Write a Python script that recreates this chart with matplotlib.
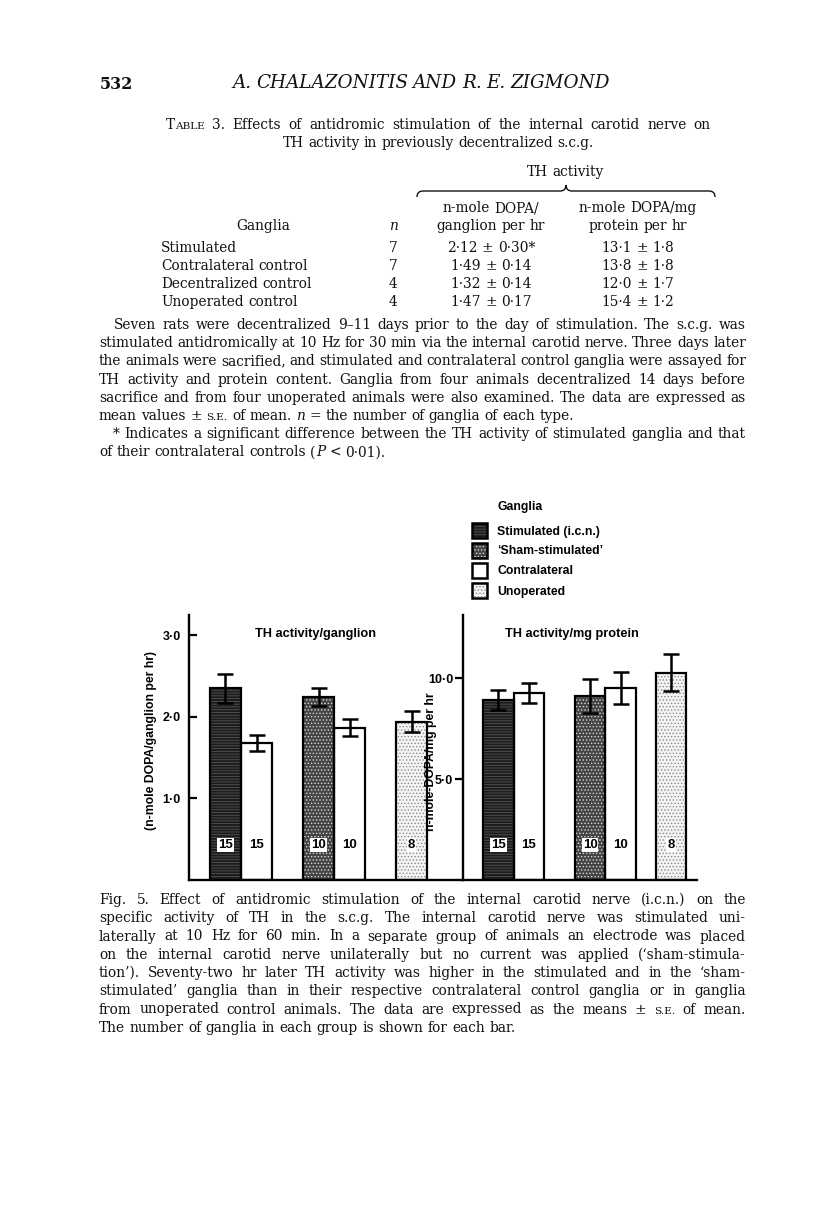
import matplotlib
matplotlib.use('Agg')
import matplotlib.pyplot as plt
from matplotlib.patches import Rectangle, PathPatch
from matplotlib.path import Path
import matplotlib.transforms as mtransforms

# ---------------- data ----------------
legend_labels = ['Stimulated (i.c.n.)', '\u2018Sham-stimulated\u2019', 'Contralateral', 'Unoperated']
bar_kind = ['stim', 'contra', 'sham', 'contra', 'unop']
n_ganglia = [15, 15, 10, 10, 8]
ganglion_mean = [2.35, 1.68, 2.25, 1.87, 1.94]
ganglion_se = [0.18, 0.10, 0.11, 0.11, 0.13]
protein_mean = [8.90, 9.24, 9.10, 9.52, 10.26]
protein_se = [0.50, 0.50, 0.83, 0.80, 0.92]
ganglion_ticks = [1.0, 2.0, 3.0]
ganglion_ticklabels = ['1\u00b70', '2\u00b70', '3\u00b70']
protein_ticks = [5.0, 10.0]
protein_ticklabels = ['5\u00b70', '10\u00b70']

table_rows = ['Stimulated', 'Contralateral control', 'Decentralized control', 'Unoperated control']
table_n = ['7', '7', '4', '4']
table_ganglion = ['2\u00b712 \u00b1 0\u00b730*', '1\u00b749 \u00b1 0\u00b714', '1\u00b732 \u00b1 0\u00b714', '1\u00b747 \u00b1 0\u00b717']
table_protein = ['13\u00b71 \u00b1 1\u00b78', '13\u00b78 \u00b1 1\u00b78', '12\u00b70 \u00b1 1\u00b77', '15\u00b74 \u00b1 1\u00b72']

# ---------------- page setup ----------------
W, H, DPI = 816, 1229, 100
plt.rcParams['hatch.linewidth'] = 0.6
fig = plt.figure(figsize=(W / DPI, H / DPI), dpi=DPI)
fig.patch.set_facecolor('white')
page = fig.add_axes([0, 0, 1, 1])
page.set_xlim(0, W)
page.set_ylim(H, 0)
page.axis('off')
renderer = fig.canvas.get_renderer()

SERIF = 'DejaVu Serif'
SANS = 'Liberation Sans'
SC = 0.76  # small caps scale
FS = 9.95  # body text size
INK = '#111111'


def parse_word(w):
    segs = []
    cur = ''
    sc = False
    it = False
    for ch in w:
        if ch in '^_':
            if cur:
                segs.append((cur, SC if sc else 1.0, 'italic' if it else 'normal'))
            cur = ''
            if ch == '^':
                sc = not sc
            else:
                it = not it
        else:
            cur += ch
    if cur:
        segs.append((cur, SC if sc else 1.0, 'italic' if it else 'normal'))
    return segs


def put_line(yc, line, x0, x1=None, size=FS, family=SERIF, weight='normal', style='normal'):
    y = yc + 4
    items = []
    total = 0
    for w in line.split(' '):
        segs = []
        wt = 0
        for txt, scale, st in parse_word(w):
            t = page.text(0, y, txt, fontsize=size * scale, family=family, weight=weight,
                          fontstyle=('italic' if style == 'italic' else st),
                          va='baseline', ha='left', color=INK)
            ww = t.get_window_extent(renderer).width
            segs.append((t, ww))
            wt += ww
        items.append(segs)
        total += wt
    space = 0.318 * size * DPI / 72
    if x1 is not None and len(items) > 1:
        gap = max((x1 - x0 - total) / (len(items) - 1), 0.6 * space)
    else:
        gap = space
    x = x0
    for segs in items:
        for t, ww in segs:
            t.set_x(x)
            x += ww
        x += gap
    return x - gap


def centered(xc, yc, line, size=FS, family=SERIF, weight='normal'):
    n0 = len(page.texts)
    end = put_line(yc, line, 0, None, size, family, weight)
    for t in page.texts[n0:]:
        t.set_x(t.get_position()[0] + xc - end / 2)


# header
page.text(100, 89, '532', fontsize=11.5, family=SERIF, weight='bold', va='baseline', color=INK)
put_line(84, 'A. CHALAZONITIS AND R. E. ZIGMOND', 232, 610, size=13.2, style='italic')

# table caption
put_line(125, 'T^ABLE^ 3. Effects of antidromic stimulation of the internal carotid nerve on', 166, 711)
centered(438, 143, 'TH activity in previously decentralized s.c.g.')

# table header
centered(565, 172, 'TH activity')
x0b, x1b, xm = 417, 715, 566
yl, ye, yp = 191, 197, 185
verts = [(x0b, ye), (x0b, yl), (x0b + 6, yl), (xm - 6, yl), (xm, yl), (xm, yp),
         (xm, yl), (xm + 6, yl), (x1b - 6, yl), (x1b, yl), (x1b, ye)]
codes = [Path.MOVETO, Path.CURVE3, Path.CURVE3, Path.LINETO, Path.CURVE3, Path.CURVE3,
         Path.CURVE3, Path.CURVE3, Path.LINETO, Path.CURVE3, Path.CURVE3]
page.add_patch(PathPatch(Path(verts, codes), fill=False, lw=1.0, color=INK))

centered(491, 208, 'n-mole DOPA/')
centered(491, 226, 'ganglion per hr')
centered(638, 208, 'n-mole DOPA/mg')
centered(638, 226, 'protein per hr')
centered(263, 226, 'Ganglia')
centered(393, 226, '_n_')
for i in range(4):
    yc = 248 + 18 * i
    put_line(yc, table_rows[i], 161, None)
    centered(393, yc, table_n[i])
    centered(491, yc, table_ganglion[i])
    centered(638, yc, table_protein[i])

# paragraph
para = [
    'Seven rats were decentralized 9\u201311 days prior to the day of stimulation. The s.c.g. was',
    'stimulated antidromically at 10 Hz for 30 min via the internal carotid nerve. Three days later',
    'the animals were sacrified, and stimulated and contralateral control ganglia were assayed for',
    'TH activity and protein content. Ganglia from four animals decentralized 14 days before',
    'sacrifice and from four unoperated animals were also examined. The data are expressed as',
    'mean values \u00b1 ^S.E.^ of mean. _n_ = the number of ganglia of each type.',
    '* Indicates a significant difference between the TH activity of stimulated ganglia and that',
    'of their contralateral controls (_P_ < 0\u00b701).',
]
para_just = [True, True, True, True, True, False, True, False]
para_x0 = [114, 99, 99, 99, 99, 99, 113, 99]
for i, line in enumerate(para):
    put_line(325 + 18.2 * i, line, para_x0[i], 746 if para_just[i] else None)

caption = [
    'Fig. 5. Effect of antidromic stimulation of the internal carotid nerve (i.c.n.) on the',
    'specific activity of TH in the s.c.g. The internal carotid nerve was stimulated uni-',
    'laterally at 10 Hz for 60 min. In a separate group of animals an electrode was placed',
    'on the internal carotid nerve unilaterally but no current was applied (\u2018sham-stimula-',
    'tion\u2019). Seventy-two hr later TH activity was higher in the stimulated and in the \u2018sham-',
    'stimulated\u2019 ganglia than in their respective contralateral control ganglia or in ganglia',
    'from unoperated control animals. The data are expressed as the means \u00b1 ^S.E.^ of mean.',
    'The number of ganglia in each group is shown for each bar.',
]
for i, line in enumerate(caption):
    put_line(900 + 18.25 * i, line, 99, 746 if i < 7 else None)

# ---------------- chart ----------------
styles = {
    'stim': dict(face='#1c1c1c', hatch='------', hcol='#555555'),
    'sham': dict(face='#444444', hatch='.....', hcol='#d8d8d8'),
    'contra': dict(face='white', hatch=None, hcol='white'),
    'unop': dict(face='#f4f4f4', hatch='.....', hcol='#8a8a8a'),
}

ax1 = fig.add_axes([189 / W, 1 - 880 / H, 274 / W, 265 / H])
ax2 = fig.add_axes([463 / W, 1 - 880 / H, 234 / W, 265 / H])

slots1 = [0, 1, 3, 4, 6]
slots2 = [0, 1, 3, 4, 5.65]


def draw_panel(ax, slots, means, ses, xlim, ylim, ticks, ticklabels, tickdir, title, title_x, ylabel, lab_x, lab_y):
    ax.set_facecolor('none')
    ax.set_xlim(*xlim)
    ax.set_ylim(*ylim)
    for s, m, kind in zip(slots, means, bar_kind):
        st = styles[kind]
        ax.bar(s, m, width=1.0, align='edge', color=st['face'], edgecolor=st['hcol'],
               hatch=st['hatch'], linewidth=0, zorder=2)
        ax.bar(s, m, width=1.0, align='edge', fill=False, edgecolor='black', linewidth=1.6, zorder=3)
    centers = [s + 0.5 for s in slots]
    ax.errorbar(centers, means, yerr=ses, fmt='none', ecolor='black', elinewidth=1.8,
                capsize=5.5, capthick=1.8, zorder=4)
    trans = mtransforms.blended_transform_factory(ax.transData, ax.transAxes)
    for c, n, kind in zip(centers, n_ganglia, bar_kind):
        bbox = None if kind == 'contra' else dict(facecolor='white', edgecolor='none', pad=0.8)
        ax.text(c, 0.132, str(n), transform=trans, ha='center', va='center', fontsize=9.5,
                family=SANS, weight='bold', bbox=bbox, zorder=5)
    for sp in ['top', 'right']:
        ax.spines[sp].set_visible(False)
    for sp in ['left', 'bottom']:
        ax.spines[sp].set_linewidth(1.7)
    ax.set_xticks([])
    ax.set_yticks(ticks)
    ax.set_yticklabels(ticklabels, fontsize=9, family=SANS, weight='bold')
    ax.tick_params(axis='y', direction=tickdir, length=6, width=1.6,
                   pad=(6 if tickdir == 'in' else 1))
    ax.text(title_x, 0.93, title, transform=ax.transAxes, ha='center', va='center',
            fontsize=9.2, family=SANS, weight='bold')
    ax.set_ylabel(ylabel, fontsize=8.8, family=SANS, weight='bold')
    ax.yaxis.set_label_coords(lab_x, lab_y)


draw_panel(ax1, slots1, ganglion_mean, ganglion_se, (-0.677, 8.16), (0, 3.25),
           ganglion_ticks, ganglion_ticklabels, 'in', 'TH activity/ganglion', 0.46,
           '(n-mole DOPA/ganglion per hr)', -0.118, 0.525)
draw_panel(ax2, slots2, protein_mean, protein_se, (-0.656, 7.0), (0, 13.12),
           protein_ticks, protein_ticklabels, 'out', 'TH activity/mg protein', 0.466,
           'n-mole-DOPA/mg per hr', -0.11, 0.445)

# legend
page.text(497, 510, 'Ganglia', fontsize=8.8, family=SANS, weight='bold', va='baseline')
leg_kinds = ['stim', 'sham', 'contra', 'unop']
for i, (lab, kind) in enumerate(zip(legend_labels, leg_kinds)):
    yc = 530 + 20 * i
    st = styles[kind]
    page.add_patch(Rectangle((472, yc - 7.5), 15, 15, facecolor=st['face'], edgecolor=st['hcol'],
                             hatch=st['hatch'], linewidth=0))
    page.add_patch(Rectangle((472, yc - 7.5), 15, 15, fill=False, edgecolor='black', linewidth=1.8))
    page.text(497, yc + 4.5, lab, fontsize=8.8, family=SANS, weight='bold', va='baseline')

fig.savefig('out.png', dpi=DPI)
